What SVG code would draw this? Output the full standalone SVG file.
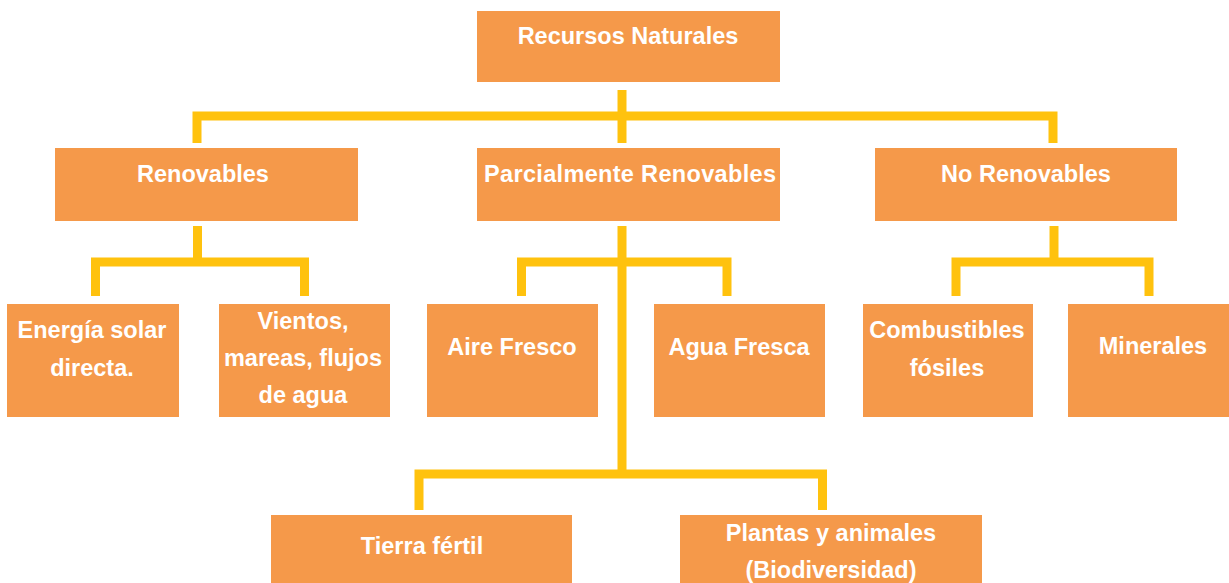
<svg xmlns="http://www.w3.org/2000/svg" width="1229" height="583" viewBox="0 0 1229 583">
<style>
.box{fill:#F5994A;}
.t{font-family:"Liberation Sans",Arial,sans-serif;font-weight:bold;font-size:23.5px;fill:#FFFFFF;text-anchor:middle;}
.c{fill:none;stroke:#FFC20E;stroke-width:9;stroke-linecap:butt;stroke-linejoin:miter;}
</style>
<rect width="1229" height="583" fill="#FFFFFF"/>
<g id="connectors">
<path class="c" d="M622,90 V143"/>
<path class="c" d="M197,143 V116 H1053 V143"/>
<path class="c" d="M197.5,226 V262"/>
<path class="c" d="M95.5,296 V262 H304.5 V296"/>
<path class="c" d="M622,226 V474"/>
<path class="c" d="M521.5,296 V262 H727 V296"/>
<path class="c" d="M419,510 V474 H822.5 V510"/>
<path class="c" d="M1054,226 V262"/>
<path class="c" d="M956,296 V262 H1149 V296"/>
</g>
<g id="recursos"><rect class="box" x="477" y="11" width="303" height="71"/><text class="t" x="628" y="44">Recursos Naturales</text></g>
<g id="renovables"><rect class="box" x="55" y="148" width="303" height="73"/><text class="t" x="203" y="182">Renovables</text></g>
<g id="parcialmente"><rect class="box" x="477" y="148" width="303" height="73"/><text class="t" x="630" y="182" textLength="292" lengthAdjust="spacing">Parcialmente Renovables</text></g>
<g id="norenovables"><rect class="box" x="875" y="148" width="302" height="73"/><text class="t" x="1026" y="182">No Renovables</text></g>
<g id="energia"><rect class="box" x="7" y="304" width="172" height="113"/><text class="t" x="92" y="338">Energía solar</text><text class="t" x="92" y="376">directa.</text></g>
<g id="vientos"><rect class="box" x="219" y="304" width="171" height="113"/><text class="t" x="303" y="329">Vientos,</text><text class="t" x="303" y="366">mareas, flujos</text><text class="t" x="303" y="403">de agua</text></g>
<g id="aire"><rect class="box" x="427" y="304" width="171" height="113"/><text class="t" x="512" y="355">Aire Fresco</text></g>
<g id="agua"><rect class="box" x="654" y="304" width="171" height="113"/><text class="t" x="739" y="355">Agua Fresca</text></g>
<g id="combustibles"><rect class="box" x="863" y="304" width="170" height="113"/><text class="t" x="947" y="338">Combustibles</text><text class="t" x="947" y="376">fósiles</text></g>
<g id="minerales"><rect class="box" x="1068" y="304" width="161" height="113"/><text class="t" x="1153" y="354">Minerales</text></g>
<g id="tierra"><rect class="box" x="271" y="515" width="301" height="68"/><text class="t" x="422" y="554">Tierra fértil</text></g>
<g id="plantas"><rect class="box" x="680" y="515" width="302" height="68"/><text class="t" x="831" y="541">Plantas y animales</text><text class="t" x="831" y="578">(Biodiversidad)</text></g>
</svg>
